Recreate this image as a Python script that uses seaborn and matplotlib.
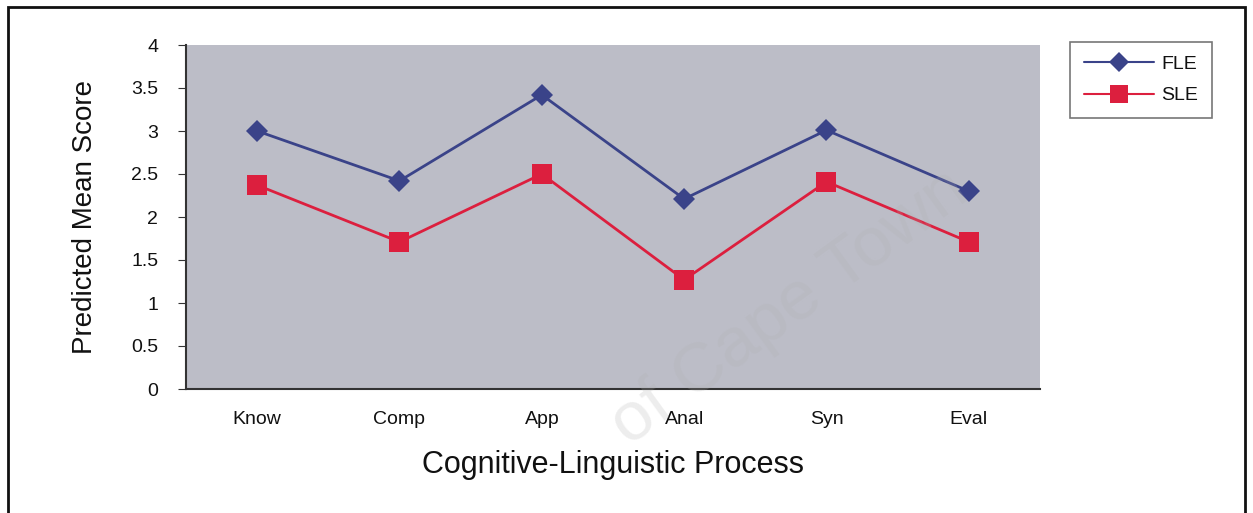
import matplotlib
matplotlib.use("Agg")
import matplotlib.pyplot as plt
import seaborn as sns
import pandas as pd
import numpy as np
from matplotlib.patches import Rectangle
from matplotlib.ticker import FixedLocator
from matplotlib.lines import Line2D

categories = ["Know", "Comp", "App", "Anal", "Syn", "Eval"]
fle = [3.00, 2.42, 3.42, 2.21, 3.01, 2.30]
sle = [2.37, 1.71, 2.50, 1.27, 2.41, 1.71]
series_names = ["FLE", "SLE"]
y_ticks = [0, 0.5, 1, 1.5, 2, 2.5, 3, 3.5, 4]
y_ticklabels = ["0", "0.5", "1", "1.5", "2", "2.5", "3", "3.5", "4"]

df = pd.DataFrame({
    "Process": categories * 2,
    "Score": fle + sle,
    "Series": [series_names[0]] * len(categories) + [series_names[1]] * len(categories),
})

sns.set_style("white")
plt.rcParams["font.family"] = ["Liberation Sans", "DejaVu Sans"]
plt.rcParams["text.color"] = "#111111"
plt.rcParams["axes.labelcolor"] = "#111111"
plt.rcParams["xtick.color"] = "#111111"
plt.rcParams["ytick.color"] = "#111111"

fig = plt.figure(figsize=(12.53, 5.13), dpi=100)

ax = fig.add_axes([186/1253, 1-389/513, (1040-186)/1253, (389-45)/513])
ax.set_facecolor("#bcbdc7")

blue = "#3a4389"
red = "#dc1f3e"
sns.lineplot(data=df, x="Process", y="Score", hue="Series", style="Series",
             palette={"FLE": blue, "SLE": red},
             markers={"FLE": "D", "SLE": "s"}, dashes=False,
             markersize=11, linewidth=2, markeredgewidth=0,
             sort=False, ax=ax, legend=False)
for line in ax.lines:
    if line.get_marker() == "s":
        line.set_markersize(14)

ax.set_xlim(-0.5, len(categories) - 0.5)
ax.set_ylim(0, 4)
ax.set_yticks(y_ticks)
ax.set_yticklabels(y_ticklabels, fontsize=14)
ax.set_xticks(range(len(categories)))
ax.set_xticklabels(categories, fontsize=14)
ax.xaxis.set_minor_locator(FixedLocator(np.arange(-0.5, len(categories), 1.0)))
ax.tick_params(axis="x", which="major", length=0, pad=16)
ax.tick_params(axis="x", which="minor", length=6, direction="out", color="#333333")
ax.tick_params(axis="y", length=6, direction="out", color="#333333", pad=14, left=True)
ax.set_xlabel("Cognitive-Linguistic Process", fontsize=22, labelpad=16)
ax.set_ylabel("Predicted Mean Score", fontsize=20, labelpad=24)
for s in ["top", "right"]:
    ax.spines[s].set_visible(False)
for s in ["left", "bottom"]:
    ax.spines[s].set_color("#333333")
    ax.spines[s].set_linewidth(1.5)

# faint watermark, light so it never hides the chart
fig.text(0.63, 0.40, "of Cape Town", fontsize=50, color="#b0b0b0", alpha=0.22,
         rotation=36, ha="center", va="center", zorder=5)

# legend
handles = [Line2D([], [], color=blue, marker="D", markersize=10, lw=1.5, markeredgewidth=0),
           Line2D([], [], color=red, marker="s", markersize=13, lw=1.5, markeredgewidth=0)]
leg = fig.legend(handles, series_names, loc="upper left",
                 bbox_to_anchor=(1070/1253, 1-42/513), fontsize=14,
                 frameon=True, fancybox=False, edgecolor="#555555",
                 handlelength=3.6, handletextpad=0.4, borderpad=0.7,
                 labelspacing=0.7, borderaxespad=0)
leg.get_frame().set_linewidth(1.2)

# outer border
fig.patches.append(Rectangle((8/1253, -0.01), 1237/1253, 1-7/513 + 0.01,
                             transform=fig.transFigure, fill=False,
                             edgecolor="#111111", linewidth=2))

fig.savefig("out.png", dpi=100)
